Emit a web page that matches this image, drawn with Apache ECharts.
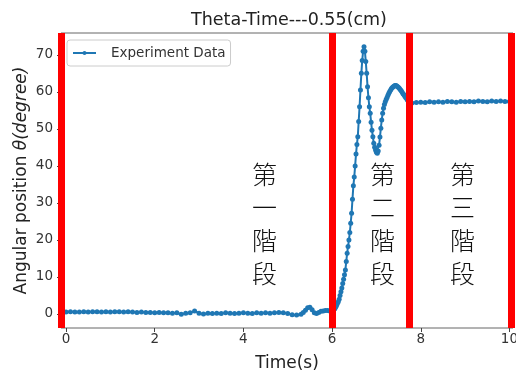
<!DOCTYPE html>
<html>
<head>
<meta charset="utf-8">
<script src="https://cdn.jsdelivr.net/npm/echarts@6/dist/echarts.min.js"></script>
<style>
  html, body { margin: 0; padding: 0; background: #fff; }
  #chart { width: 516px; height: 373px; }
</style>
</head>
<body>
<div id="chart"></div>
<script>
// Sample times (s) of the tracked pendulum angle
const timeS = [
  0.0, 0.1, 0.2, 0.3, 0.4, 0.5, 0.6, 0.7, 0.8, 0.9,
  1.0, 1.1, 1.2, 1.3, 1.4, 1.5, 1.6, 1.7, 1.8, 1.9,
  2.0, 2.1, 2.2, 2.3, 2.4, 2.5, 2.6, 2.7, 2.8, 2.9,
  3.0, 3.1, 3.2, 3.3, 3.4, 3.5, 3.6, 3.7, 3.8, 3.9,
  4.0, 4.1, 4.2, 4.3, 4.4, 4.5, 4.6, 4.7, 4.8, 4.9,
  5.0, 5.1, 5.2, 5.3,
  5.35, 5.40, 5.45, 5.50, 5.55, 5.60, 5.65, 5.70, 5.75, 5.80, 5.85, 5.90, 5.95,
  6.00, 6.02, 6.04, 6.06, 6.08, 6.10, 6.12, 6.14, 6.16, 6.18,
  6.20, 6.22, 6.24, 6.26, 6.28, 6.30, 6.32, 6.34, 6.36, 6.38,
  6.40, 6.42, 6.44, 6.46, 6.48, 6.50, 6.52, 6.54, 6.56, 6.58,
  6.60, 6.62, 6.64, 6.66, 6.68, 6.70, 6.72, 6.74, 6.76, 6.78,
  6.80, 6.82, 6.84, 6.86, 6.88, 6.90, 6.92, 6.94, 6.96, 6.98,
  7.00, 7.02, 7.04, 7.06, 7.08, 7.10, 7.12, 7.14, 7.16, 7.18,
  7.20, 7.22, 7.24, 7.26, 7.28, 7.30, 7.32, 7.34, 7.36, 7.38,
  7.40, 7.42, 7.44, 7.46, 7.48, 7.50, 7.52, 7.54, 7.56, 7.58,
  7.60, 7.62, 7.64, 7.66, 7.68, 7.70, 7.72, 7.74, 7.76, 7.78,
  7.80,
  7.9, 8.0, 8.1, 8.2, 8.3, 8.4, 8.5, 8.6, 8.7, 8.8,
  8.9, 9.0, 9.1, 9.2, 9.3, 9.4, 9.5, 9.6, 9.7, 9.8,
  9.9, 10.0
];

// Angular position (degree) at each sample time
const thetaDeg = [
  0.5, 0.6, 0.5, 0.5, 0.6, 0.5, 0.6, 0.6, 0.5, 0.6,
  0.5, 0.6, 0.6, 0.5, 0.6, 0.5, 0.4, 0.5, 0.4, 0.4,
  0.3, 0.4, 0.3, 0.3, 0.2, 0.3, -0.1, 0.2, 0.3, 0.8,
  0.2, 0.0, 0.2, 0.1, 0.2, 0.1, 0.3, 0.2, 0.1, 0.2,
  0.3, 0.2, 0.1, 0.3, 0.2, 0.3, 0.2, 0.3, 0.4, 0.3,
  0.1, -0.2, -0.3, -0.1,
  0.4, 1.0, 1.7, 1.8, 1.1, 0.3, 0.1, 0.4, 0.7, 0.8, 0.9, 0.9, 0.8,
  0.8, 0.9, 1.1, 1.4, 1.8, 2.3, 2.8, 3.3, 4.0, 5.0,
  6.0, 7.0, 8.2, 9.4, 10.6, 11.9, 14.2, 16.4, 18.2, 20.0,
  22.0, 24.5, 27.2, 31.0, 34.6, 37.0, 40.0, 43.2, 45.8, 47.9,
  52.0, 56.0, 60.5, 65.0, 68.5, 71.0, 72.2, 71.0, 68.2, 65.0,
  61.4, 58.4, 56.0, 54.2, 51.8, 49.6, 47.9, 46.1, 45.0, 44.3,
  43.7, 43.4, 44.0, 45.6, 47.8, 50.2, 52.4, 54.2, 55.6, 56.6,
  57.3, 57.9, 58.5, 59.1, 59.6, 60.1, 60.5, 60.9, 61.2, 61.4,
  61.6, 61.7, 61.7, 61.6, 61.4, 61.2, 60.9, 60.6, 60.3, 59.9,
  59.5, 59.2, 58.8, 58.5, 58.2, 57.8, 57.4, 57.1, 56.9, 56.9,
  57.0,
  57.1, 57.2, 57.1, 57.3, 57.2, 57.3, 57.2, 57.4, 57.3, 57.2,
  57.4, 57.3, 57.4, 57.3, 57.5, 57.4, 57.3, 57.5, 57.4, 57.5,
  57.4, 57.4
];

// Stage boundaries (s), drawn as red vertical bars
const stageBounds = [-0.11, 6.01, 7.75, 10.04];

// Stage captions
const stageNames = ['第一階段', '第二階段', '第三階段'];

// Axis tick values
const xTicks = [0, 2, 4, 6, 8, 10];
const yTicks = [0, 10, 20, 30, 40, 50, 60, 70];

const points = timeS.map((t, i) => [t, thetaDeg[i]]);

const chart = echarts.init(document.getElementById('chart'), null, { renderer: 'canvas' });

const font = 'DejaVu Sans, sans-serif';
const cjkFont = '"Noto Sans CJK TC", "Noto Sans CJK SC", sans-serif';
const captionX = [265, 383, 463];

chart.setOption({
  animation: false,
  backgroundColor: '#ffffff',
  title: {
    text: 'Theta-Time---0.55(cm)',
    left: 284,
    top: 6,
    textAlign: 'center',
    textStyle: { fontFamily: font, fontSize: 17.5, fontWeight: 'normal', color: '#222' }
  },
  legend: {
    left: 67,
    top: 40,
    orient: 'vertical',
    padding: [6, 5, 6, 5],
    itemWidth: 23,
    itemHeight: 5,
    borderColor: '#cccccc',
    borderWidth: 1,
    borderRadius: 3,
    backgroundColor: '#ffffff',
    textStyle: { fontFamily: font, fontSize: 13.5, color: '#333', padding: [0, 0, 0, 10] },
    data: ['Experiment Data']
  },
  grid: {
    left: 61, right: 3, top: 33, bottom: 45,
    outerBoundsMode: 'none',
    containLabel: false,
    show: true, borderColor: '#666', borderWidth: 1
  },
  xAxis: {
    type: 'value',
    min: -0.113,
    max: 10.08,
    name: 'Time(s)',
    nameLocation: 'middle',
    nameGap: 27,
    nameMoveOverlap: false,
    nameTextStyle: { fontFamily: font, fontSize: 17, color: '#222' },
    axisLine: { show: false, onZero: false },
    splitLine: { show: false },
    axisTick: { show: true, customValues: xTicks, length: 4, lineStyle: { color: '#444' } },
    axisLabel: { customValues: xTicks, hideOverlap: false, margin: 4, fontFamily: font, fontSize: 13.5, color: '#333' }
  },
  yAxis: {
    type: 'value',
    min: -3.8,
    max: 75.9,
    name: '{a|Angular position }{b|θ(degree)}',
    nameLocation: 'middle',
    nameRotate: 90,
    nameGap: 31,
    nameMoveOverlap: false,
    nameTextStyle: {
      rich: {
        a: { fontFamily: font, fontSize: 17, color: '#222' },
        b: { fontFamily: font, fontSize: 17, color: '#222', fontStyle: 'italic' }
      }
    },
    axisLine: { show: false, onZero: false },
    splitLine: { show: false },
    axisTick: { show: true, customValues: yTicks, length: 4, lineStyle: { color: '#444' } },
    axisLabel: { customValues: yTicks, margin: 8, fontFamily: font, fontSize: 13.5, color: '#333' }
  },
  series: [{
    name: 'Experiment Data',
    type: 'line',
    data: points,
    symbol: 'circle',
    symbolSize: 5,
    showSymbol: true,
    itemStyle: { color: '#1f77b4' },
    lineStyle: { color: '#1f77b4', width: 2 },
    emphasis: { disabled: true },
    markLine: {
      silent: true,
      symbol: ['none', 'none'],
      label: { show: false },
      emphasis: { disabled: true },
      lineStyle: { color: '#ff0000', width: 7, type: 'solid', opacity: 1 },
      data: stageBounds.map(v => ({ xAxis: v }))
    }
  }],
  graphic: stageNames.map((s, i) => ({
    type: 'text',
    left: captionX[i] - 13,
    top: 158,
    z: 10,
    style: {
      text: s.split('').join('\n'),
      font: '300 25px ' + cjkFont,
      lineHeight: 33,
      fill: '#111',
      textAlign: 'center'
    }
  }))
});
</script>
</body>
</html>
